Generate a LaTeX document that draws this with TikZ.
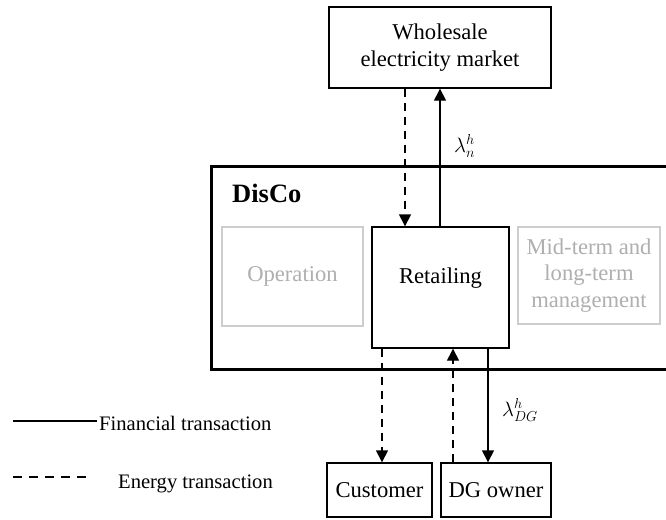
\documentclass[tikz,border=0pt]{standalone}
\usepackage{fontspec}
\setmainfont{Liberation Serif}
\usetikzlibrary{arrows.meta,calc}
\definecolor{boxgray}{RGB}{205,205,205}
\definecolor{txtgray}{RGB}{175,175,175}
\tikzset{
  mainbox/.style={draw=black, line width=1.4pt, inner sep=0pt, align=center,
    font=\fontsize{22.6}{27}\selectfont},
  graybox/.style={draw=boxgray, line width=1.4pt, inner sep=0pt, align=center,
    text=txtgray, font=\fontsize{22.6}{26.7}\selectfont},
  fin/.style={line width=1.4pt, -{Triangle[length=12pt,width=12pt]}},
  energy/.style={line width=1.4pt, dash pattern=on 8pt off 6pt, -{Triangle[length=12pt,width=12pt]}},
  legtext/.style={anchor=base west, inner sep=0pt, font=\fontsize{20.6}{24}\selectfont},
  lbl/.style={inner sep=0pt, font=\fontsize{22}{26}\selectfont}
}
\begin{document}
\begin{tikzpicture}[x=1pt,y=-1pt]
\clip (0,0) rectangle (666,519);
\fill[white] (0,0) rectangle (666,519);
% DisCo frame
\node[draw, line width=3pt, minimum width=479pt, minimum height=203pt, inner sep=0pt] (disco) at (450.5,267.5) {};
\node[anchor=base west, inner sep=0pt, font=\fontsize{26.5}{30}\selectfont\bfseries] (discolbl) at (232,202) {DisCo};
% boxes
\node[mainbox, minimum width=222pt, minimum height=81pt] (wh) at (440,47.5) {Wholesale\\electricity market};
\node[graybox, minimum width=141pt, minimum height=99pt] (op) at (292.5,276.5) {Operation};
\node[mainbox, minimum width=137pt, minimum height=121pt] (ret) at (440.5,287.5) {};
\node[inner sep=0pt, font=\fontsize{22.6}{27}\selectfont] (rettxt) at (440.5,278) {Retailing};
\node[graybox, minimum width=142pt, minimum height=97pt] (mid) at (589,275.5) {Mid-term and\\long-term\\management};
\node[mainbox, minimum width=105pt, minimum height=54pt] (cust) at (379.5,490) {Customer};
\node[mainbox, minimum width=110pt, minimum height=54pt] (dg) at (496,490) {DG owner};
% connectors
\draw[energy] ([xshift=-35pt]wh.south) -- ([xshift=-35.5pt]ret.north);
\draw[fin] ([xshift=-0.5pt]ret.north) -- (wh.south);
\draw[energy] ([xshift=-58.5pt]ret.south) -- ([xshift=2.5pt]cust.north);
\draw[energy] ([xshift=-43pt]dg.north) -- ([xshift=12.5pt]ret.south);
\draw[fin] ([xshift=47.5pt]ret.south) -- ([xshift=-8pt]dg.north);
% labels
\node[lbl, anchor=west] (lamn) at (454,146) {$\lambda_{n}^{h}$};
\node[lbl, anchor=west] (lamdg) at (502,410) {$\lambda_{DG}^{h}$};
% legend
\coordinate (fa) at (13,421);
\coordinate (fb) at (97,421);
\coordinate (ea) at (13,477);
\coordinate (eb) at (87,477);
\draw[line width=1.4pt] (fa) -- (fb);
\draw[line width=1.4pt, dash pattern=on 9pt off 7pt] (ea) -- (eb);
\node[legtext] (ft) at (99,430) {Financial transaction};
\node[legtext] (et) at (118,488) {Energy transaction};
\end{tikzpicture}
\end{document}
